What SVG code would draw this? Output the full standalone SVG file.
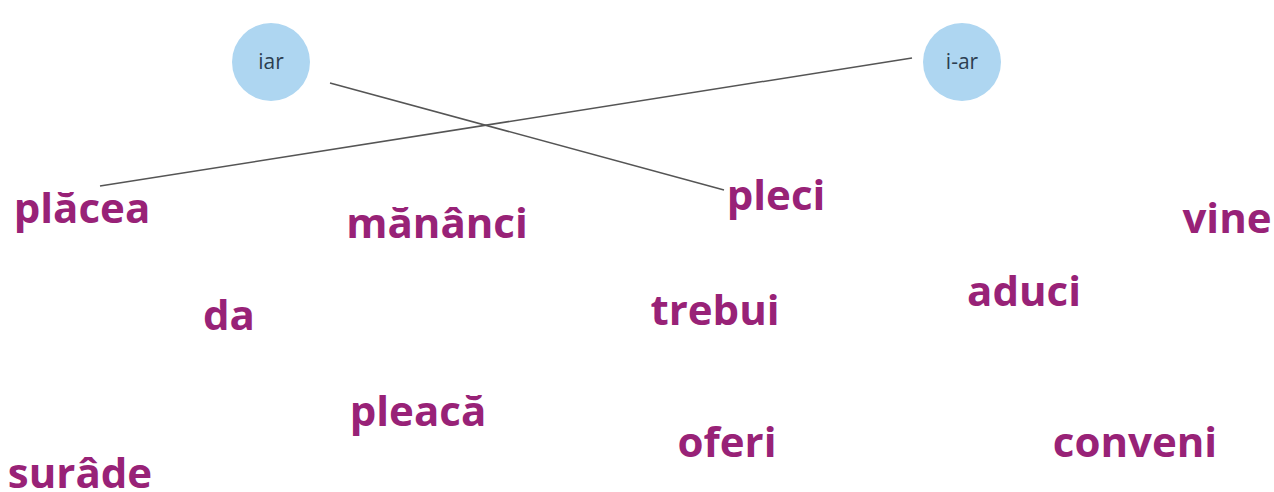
<svg xmlns="http://www.w3.org/2000/svg" width="1274" height="492" viewBox="0 0 1274 492">
<style>
.hub circle{fill:#aed6f1;}
.hub text{font-family:"Open Sans","Liberation Sans",sans-serif;font-size:21px;fill:#2c3e50;text-anchor:middle;}
.word text{font-family:"Open Sans","Liberation Sans",sans-serif;font-size:42px;font-weight:bold;fill:#982277;text-anchor:middle;}
.edges line{stroke:#555;stroke-width:1.5;}
</style>
<rect width="1274" height="492" fill="#fff"/>
<g class="edges" id="connectors">
<line x1="330" y1="83" x2="724" y2="190"/>
<line x1="912" y1="58" x2="100" y2="186"/>
</g>
<g class="hub" id="n-iar"><circle cx="271" cy="62" r="39"/><text x="271" y="69">iar</text></g>
<g class="hub" id="n-i-ar"><circle cx="962" cy="62" r="39"/><text x="962" y="69">i-ar</text></g>
<g class="word" id="w-placea"><text x="82" y="223">plăcea</text></g>
<g class="word" id="w-mananci"><text x="437" y="238">mănânci</text></g>
<g class="word" id="w-pleci"><text x="776" y="210">pleci</text></g>
<g class="word" id="w-vine"><text x="1227" y="233">vine</text></g>
<g class="word" id="w-da"><text x="229" y="330">da</text></g>
<g class="word" id="w-trebui"><text x="715" y="325">trebui</text></g>
<g class="word" id="w-aduci"><text x="1024" y="306">aduci</text></g>
<g class="word" id="w-pleaca"><text x="418" y="426">pleacă</text></g>
<g class="word" id="w-oferi"><text x="727" y="457">oferi</text></g>
<g class="word" id="w-conveni"><text x="1135" y="457">conveni</text></g>
<g class="word" id="w-surade"><text x="80" y="488">surâde</text></g>
</svg>
